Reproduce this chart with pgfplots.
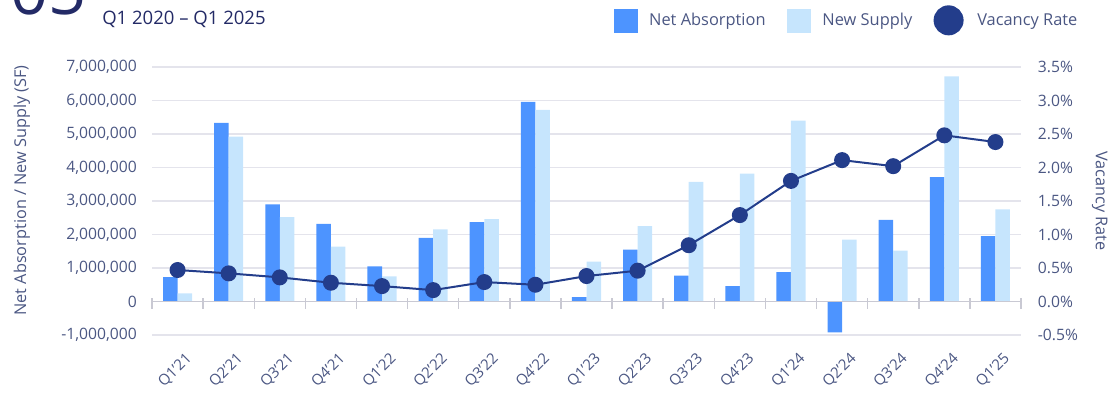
\documentclass[border=0pt]{standalone}
\usepackage{fontspec}
\setmainfont{Open Sans}
\usepackage{pgfplots}
\pgfplotsset{compat=1.18}
\definecolor{na}{HTML}{4D94FF}
\definecolor{ns}{HTML}{C6E5FD}
\definecolor{vac}{HTML}{233D8B}
\definecolor{txt}{HTML}{4B5783}
\definecolor{gridc}{HTML}{E4E4EC}
\definecolor{axl}{HTML}{C9C9D3}
\definecolor{ttl}{HTML}{232A66}
\begin{document}
\begin{tikzpicture}
\useasboundingbox (0,0) rectangle (835.5pt,294.75pt);
\clip (0,0) rectangle (835.5pt,294.75pt);
\node[anchor=base west, font=\fontsize{50}{50}\selectfont, text=ttl, inner sep=0pt] at (7.5pt,283.5pt) {05};
\node[anchor=west, font=\fontsize{13.9}{14}\selectfont, text=ttl, inner sep=0pt] at (76.5pt,280.5pt) {Q1 2020 – Q1 2025};

\begin{axis}[
  at={(114pt,43.5pt)}, anchor=south west,
  scale only axis, width=651.75pt, height=201pt,
  xmin=-0.5, xmax=16.5, ymin=-1000000, ymax=7000000,
  axis line style={draw=none}, major tick length=0pt,
  xtick={0,...,16},
  xticklabels={Q1'21,Q2'21,Q3'21,Q4'21,Q1'22,Q2'22,Q3'22,Q4'22,Q1'23,Q2'23,Q3'23,Q4'23,Q1'24,Q2'24,Q3'24,Q4'24,Q1'25},
  ytick={-1000000,0,1000000,2000000,3000000,4000000,5000000,6000000,7000000},
  scaled y ticks=false,
  /pgf/number format/.cd, fixed, 1000 sep={,}, assume math mode=true, /pgfplots/.cd,
  tick label style={font=\fontsize{11.75}{13}\selectfont, text=txt},
  xticklabel style={rotate=45, anchor=north east, inner sep=0pt, yshift=-12.5pt, xshift=-5pt, font=\fontsize{11.25}{12}\selectfont},
  yticklabel style={inner sep=0pt, xshift=-11.25pt, anchor=east},
  ymajorgrids, grid style={gridc, line width=0.9pt},
  ylabel={Net Absorption / New Supply (SF)},
  every axis y label/.style={at={(axis description cs:0,0.5)}, xshift=-97.5pt, yshift=8pt, rotate=90, anchor=center, font=\fontsize{12.2}{13}\selectfont, text=txt},
  clip=false,
]
\addplot[ybar, bar width=10.9pt, bar shift=-5.45pt, fill=na, draw=none] coordinates {
(0,730000) (1,5330000) (2,2900000) (3,2320000) (4,1050000) (5,1900000) (6,2370000) (7,5960000) (8,130000) (9,1550000) (10,770000) (11,460000) (12,880000) (13,-920000) (14,2440000) (15,3710000) (16,1950000)};
\addplot[ybar, bar width=10.9pt, bar shift=5.45pt, fill=ns, draw=none] coordinates {
(0,240000) (1,4920000) (2,2520000) (3,1640000) (4,750000) (5,2150000) (6,2460000) (7,5720000) (8,1190000) (9,2250000) (10,3570000) (11,3820000) (12,5400000) (13,1850000) (14,1520000) (15,6720000) (16,2750000)};
\draw[axl, line width=1.1pt] (axis cs:-0.5,0) -- (axis cs:16.5,0);
\pgfplotsinvokeforeach{-0.5,0.5,1.5,2.5,3.5,4.5,5.5,6.5,7.5,8.5,9.5,10.5,11.5,12.5,13.5,14.5,15.5,16.5}{
  \draw[axl, line width=1.1pt] ([yshift=2.5pt]axis cs:#1,0) -- ([yshift=-5.5pt]axis cs:#1,0);
}
\end{axis}

\begin{axis}[
  at={(114pt,43.5pt)}, anchor=south west,
  scale only axis, width=651.75pt, height=201pt,
  xmin=-0.5, xmax=16.5, ymin=-0.5, ymax=3.5,
  axis line style={draw=none}, major tick length=0pt,
  xtick=\empty,
  ytick={-0.5,0,0.5,1,1.5,2,2.5,3,3.5},
  yticklabel pos=right,
  yticklabel={\pgfmathprintnumber[fixed,fixed zerofill,precision=1,assume math mode=true]{\tick}\%},
  tick label style={font=\fontsize{11.75}{13}\selectfont, text=txt},
  yticklabel style={inner sep=0pt, xshift=12.5pt, anchor=west},
  ylabel={Vacancy Rate},
  every axis y label/.style={at={(axis description cs:1,0.5)}, xshift=59pt, rotate=-90, anchor=center, font=\fontsize{12.2}{13}\selectfont, text=txt},
  legend columns=3,
  legend style={at={(axis description cs:1,1)}, anchor=east, xshift=47.5pt, yshift=35pt, draw=none, fill=none, font=\fontsize{12.3}{13}\selectfont, text=txt,
    /tikz/every odd column/.append style={column sep=7pt},
    /tikz/every even column/.append style={column sep=14pt}},
  clip=false,
]
\addlegendimage{legend image code/.code={\fill[na] (0pt,-8.6pt) rectangle (17.25pt,8.6pt);}}
\addlegendentry{Net Absorption}
\addlegendimage{legend image code/.code={\fill[ns] (0pt,-8.6pt) rectangle (17.25pt,8.6pt);}}
\addlegendentry{New Supply}
\addplot[vac, line width=1.5pt, mark=*, mark size=5.25pt, mark options={fill=vac, draw=vac},
  legend image code/.code={\fill[vac] (10.5pt,0pt) circle (10.5pt); \path[draw=none] (0pt,0pt) -- (23pt,0pt);}] coordinates {
(0,0.47) (1,0.42) (2,0.36) (3,0.28) (4,0.23) (5,0.17) (6,0.29) (7,0.25) (8,0.38) (9,0.46) (10,0.84) (11,1.29) (12,1.80) (13,2.11) (14,2.02) (15,2.48) (16,2.38)};
\addlegendentry{Vacancy Rate}
\end{axis}
\end{tikzpicture}
\end{document}
